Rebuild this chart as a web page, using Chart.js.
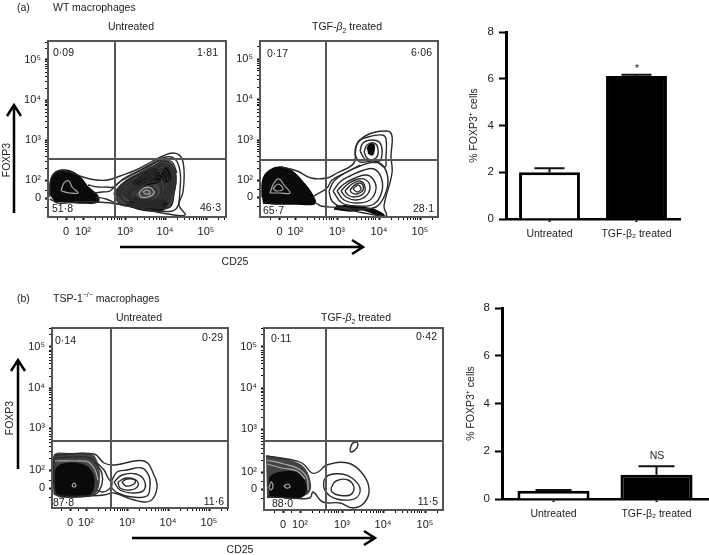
<!DOCTYPE html>
<html lang="en">
<head>
  <meta charset="UTF-8">
  <title>FOXP3 CD25 macrophages</title>
  <style>
    html, body { margin: 0; padding: 0; background: #fff; }
    #page {
      position: relative; width: 709px; height: 555px; overflow: hidden;
      font-family: "Liberation Sans", Arial, sans-serif; font-size: 10.5px; color: #222;
      filter: blur(0.4px);
    }
    canvas { position: absolute; }
    svg { position: absolute; left: 0; top: 0; }
    .t { position: absolute; white-space: nowrap; line-height: 1; }
    .t sup { font-size: 7px; line-height: 0; }
    .t sub { font-size: 7px; line-height: 0; }
  </style>
</head>
<body>
<div id="page">
  <canvas id="wtUntreated"></canvas>
  <canvas id="wtTreated"></canvas>
  <canvas id="wtBars"></canvas>
  <canvas id="tspUntreated"></canvas>
  <canvas id="tspTreated"></canvas>
  <canvas id="tspBars"></canvas>
  <svg width="709" height="555" fill="none" stroke="#000" stroke-width="2.5">
    <path d="M120 247H362M352 240L363 247L352 254"/>
    <path d="M14 213V106M7 116L14 105L21 116"/>
    <path d="M132 538H374M364 531L375 538L364 545"/>
    <path d="M18 469V361M11 371L18 360L25 371"/>
  </svg>
</div>

<script src="https://cdn.jsdelivr.net/npm/chart.js"></script>
<script>
// bar charts
const barCategories = ['Untreated', 'TGF-β₂ treated'];
const barTicks = [0, 2, 4, 6, 8];
const wtPercent = [2.0, 6.12];
const wtErrorTop = [2.17, 6.17];
const tspPercent = [0.35, 1.02];
const tspErrorTop = [0.38, 1.37];

// flow plots: values are display channels on each axis
const flowTickLabels = ['0', '10²', '10³', '10⁴', '10⁵'];
const wtUntreatedTicksX = [18, 35, 77, 117, 158];
const wtUntreatedTicksY = [19, 37, 77, 117, 157];
const wtTreatedTicksX = [19.5, 35.5, 77, 119, 160];
const wtTreatedTicksY = [20, 37, 77, 118, 158];
const tspUntreatedTicksX = [18, 34, 75, 116, 157];
const tspUntreatedTicksY = [20, 38, 80, 120, 161];
const tspTreatedTicksX = [19, 36, 78, 119, 161];
const tspTreatedTicksY = [21, 38, 81, 122, 163];

const wtUntreatedQuadrants = ['0·09', '1·81', '51·8', '46·3'];
const wtTreatedQuadrants = ['0·17', '6·06', '65·7', '28·1'];
const tspUntreatedQuadrants = ['0·14', '0·29', '87·8', '11·6'];
const tspTreatedQuadrants = ['0·11', '0·42', '88·0', '11·5'];

const wtUntreatedGate = [67, 58];
const wtTreatedGate = [66, 57];
const tspUntreatedGate = [59, 67];
const tspTreatedGate = [62, 69];

const wtUntreatedShade = [
  [[66,22],[74,33],[88,42],[104,50],[116,56],[124,52],[128,40],[126,24],[122,10],[105,8],[85,10],[70,15]]
];
const wtUntreatedDense = [
  [[2,22],[3,38],[10,46],[22,46],[32,40],[40,30],[49,22],[50,15],[35,14],[20,15],[6,16]],
  [[78,12],[95,7],[115,7],[118,16],[98,16],[84,18]],
  [[84,34],[95,42],[108,48],[112,36],[102,33],[90,31]],
  [[112,40],[118,50],[122,46],[122,36],[116,34]]
];
const wtUntreatedContours = [
  [[2,20],[3,38],[10,46],[22,45],[35,40],[48,37],[60,37],[72,41],[88,47],[103,55],[115,61],[125,64],[133,60],[136,47],[135,25],[131,12],[137,2],[120,3],[95,8],[70,13],[50,15],[30,15],[10,14],[2,18]],
  [[40,32],[50,30],[58,30],[66,30],[75,38],[90,46],[105,54],[118,60],[127,58],[132,46],[132,28],[128,8],[110,6],[90,9],[70,13],[58,18],[48,20]],
  [[46,24],[54,25],[62,26],[70,34],[84,42],[100,50],[114,57],[124,55],[129,44]],
  [[66,24],[74,33],[88,42],[104,50],[116,56],[124,52],[128,40],[126,24],[122,10],[105,9],[85,11],[70,15],[66,24]],
  [[68,24],[76,33],[89,41],[104,48],[115,53],[123,49],[126,37],[123,21],[118,11],[100,10],[81,13],[68,24]],
  [[70,24],[78,32],[90,39],[104,46],[115,51],[122,46],[124,34],[120,18],[114,12],[96,11],[78,15],[70,24]],
  [[72,24],[80,31],[91,38],[104,44],[114,48],[120,43],[122,31],[118,17],[107,12],[90,13],[76,16],[72,24]],
  [[74,23],[82,30],[92,37],[104,42],[113,46],[119,40],[120,28],[115,16],[100,13],[84,16],[74,23]],
  [[76,23],[84,29],[93,35],[104,40],[112,43],[117,37],[118,26],[113,16],[99,14],[85,16],[76,23]],
  [[78,22],[85,28],[94,34],[104,38],[111,40],[116,34],[116,24],[110,16],[98,15],[86,17],[78,22]],
  [[80,22],[88,29],[96,33],[105,36],[111,36],[114,30],[113,22],[106,16],[95,16],[80,22]],
  [[82,22],[90,29],[98,33],[106,35],[112,31],[112,22],[105,17],[94,17],[82,22]],
  [[86,22],[92,28],[100,31],[107,28],[108,22],[101,18],[92,18],[86,22]]
];
const wtUntreatedLight = [
  [[13,26],[16,34],[21,36],[24,30],[30,24],[22,24],[13,26]],
  [[91,24],[96,29],[103,29],[106,24],[100,20],[93,20],[91,24]],
  [[95,25],[99,27],[102,24],[98,23],[95,25]]
];

const wtTreatedShade = [];
const wtTreatedDense = [
  [[2,20],[3,38],[10,47],[21,50],[32,46],[42,36],[50,26],[55,17],[54,13],[35,13],[15,13],[3,14]],
  [[74,8],[90,6],[104,7],[115,3],[124,2],[112,8],[90,11],[76,11]],
  [[107,68],[110,73],[114,72],[114,66],[112,62],[108,64]]
];
const wtTreatedContours = [
  [[21,50],[37,46],[51,39],[67,39],[77,44],[94,54],[96,71],[107,82],[127,86],[132,81],[131,61],[132,44],[124,11],[126,1],[104,4],[81,9],[61,11],[56,14]],
  [[54,21],[67,29],[72,37],[85,44],[100,52]],
  [[69,26],[74,36],[85,44],[100,51],[115,55],[124,50],[128,36],[124,20],[116,10],[100,8],[82,10],[72,16],[69,26]],
  [[73,26],[80,35],[90,41],[104,47],[114,48],[121,40],[122,26],[114,13],[98,11],[82,14],[73,26]],
  [[77,26],[84,33],[95,39],[106,42],[113,38],[116,28],[110,17],[97,14],[84,17],[77,26]],
  [[81,26],[88,33],[98,38],[106,37],[110,30],[106,21],[96,17],[86,20],[81,26]],
  [[85,26],[92,33],[100,36],[105,30],[103,23],[94,20],[88,22],[85,26]],
  [[90,27],[96,33],[102,33],[103,27],[97,23],[92,24],[90,27]],
  [[93,28],[98,32],[101,28],[97,25],[93,28]],
  [[95,62],[98,75],[108,80],[122,82],[126,78],[126,60],[125,50],[115,56],[100,55],[95,62]],
  [[100,66],[103,74],[112,77],[120,74],[122,62],[118,55],[106,57],[100,66]],
  [[104,65],[107,72],[114,74],[118,68],[116,59],[108,58],[104,65]]
];
const wtTreatedLight = [
  [[10,24],[14,34],[19,38],[24,32],[30,24],[20,24],[10,24]],
  [[13,28],[18,33],[23,28],[17,26],[13,28]]
];

const tspUntreatedShade = [
  [[2,14],[2,52],[20,54],[40,53],[46,42],[47,25],[42,14],[25,11],[8,12]]
];
const tspUntreatedDense = [
  [[4,14],[4,38],[12,44],[28,44],[38,38],[42,26],[38,14],[24,12],[10,12]]
];
const tspUntreatedContours = [
  [[2,53],[42,54],[52,45],[62,43],[92,47],[102,33],[105,20],[98,7],[82,8],[62,15],[52,13],[38,12],[10,11],[2,14]],
  [[2,50],[22,51],[38,50],[46,42],[50,34],[50,24],[44,14],[30,12],[10,12],[3,16],[2,50]],
  [[45,45],[52,38],[56,30],[60,24],[56,18],[50,16],[45,18]],
  [[60,28],[65,36],[75,38],[90,40],[97,32],[98,22],[95,12],[80,11],[68,14],[60,20],[60,28]],
  [[62,26],[70,33],[84,34],[92,28],[92,18],[82,15],[68,18],[62,26]],
  [[66,26],[74,30],[84,28],[86,22],[78,18],[68,20],[66,26]],
  [[70,26],[75,29],[83,28],[82,24],[74,22],[70,26]]
];
const tspUntreatedLight = [
  [[3,47],[22,47],[36,46],[43,38],[46,28]],
  [[20,22],[22,25],[24,22],[22,21],[20,22]]
];

const tspTreatedShade = [
  [[2,54],[23,50],[39,43],[46,28],[44,17],[29,13],[3,13]]
];
const tspTreatedDense = [
  [[6,14],[6,32],[14,37],[30,38],[39,31],[42,20],[37,13],[20,12]]
];
const tspTreatedContours = [
  [[2,54],[23,51],[38,47],[48,37],[54,38],[63,45],[84,47],[98,37],[105,22],[101,8],[89,2],[76,7],[59,8],[49,18],[46,12],[29,12],[3,13]],
  [[60,30],[65,35],[78,36],[88,32],[96,22],[92,12],[78,10],[66,14],[60,22],[60,30]],
  [[67,22],[72,29],[84,30],[90,22],[86,15],[74,15],[68,18],[67,22]],
  [[86,60],[88,66],[92,68],[94,65],[91,60],[87,58],[86,60]]
];
const tspTreatedLight = [
  [[3,50],[20,46],[35,41],[43,32],[44,20]],
  [[3,46],[18,42],[33,39],[41,31]],
  [[5,22],[7,28],[9,24],[7,20],[5,22]],
  [[20,24],[24,26],[26,23],[22,22],[20,24]]
];

const decadeMinor = [12, 19, 24, 28, 31, 34, 36, 38];

const ink = '#222';

function label(html, x, y, align) {
  const d = document.createElement('div');
  d.className = 't';
  d.innerHTML = html;
  d.style.left = x + 'px';
  d.style.top = y + 'px';
  const tx = align === 'right' ? '-100%' : align === 'center' ? '-50%' : '0';
  d.style.transform = 'translate(' + tx + ',-50%)';
  document.getElementById('page').appendChild(d);
}

function place(id, area, g) {
  const c = document.getElementById(id);
  c.width = Math.round(area.r - area.l + g.left + g.right);
  c.height = Math.round(area.b - area.t + g.top + g.bottom);
  c.style.left = Math.round(area.l - g.left) + 'px';
  c.style.top = Math.round(area.t - g.top) + 'px';
  return c;
}

const framePlugin = {
  id: 'frame',
  afterDatasetsDraw(chart) {
    const a = chart.chartArea, ctx = chart.ctx;
    ctx.save();
    ctx.strokeStyle = '#555';
    ctx.lineWidth = 2;
    ctx.strokeRect(a.left, a.top, a.right - a.left, a.bottom - a.top);
    ctx.restore();
  }
};

function flowAxis(majors, gutter, horizontal) {
  const all = majors.slice();
  for (let i = 1; i < majors.length - 1; i++) {
    decadeMinor.forEach(m => all.push(majors[i] + m));
  }
  all.push(majors[0] - 9, majors[0] + 8, majors[4] + 12, majors[4] + 18);
  return {
    type: 'linear',
    afterBuildTicks(s) {
      s.ticks = all.filter(v => v > s.min && v < s.max).sort((a, b) => a - b).map(v => ({ value: v }));
    },
    afterFit(s) {
      if (horizontal) s.height = gutter; else s.width = gutter;
    },
    border: { display: false },
    grid: {
      drawOnChartArea: false, tickLength: 3, tickColor: '#111',
      tickWidth: c => (majors.includes(c.tick.value) ? 2 : 1)
    },
    ticks: {
      autoSkip: false, maxRotation: 0, minRotation: 0, padding: horizontal ? 5 : 4, color: ink,
      font: { family: 'Liberation Sans', size: 11 },
      callback: v => { const i = majors.indexOf(v); return i < 0 ? '' : flowTickLabels[i]; }
    }
  };
}

function polygons(list, opts) {
  return list.map(poly => Object.assign({
    data: poly.map(p => ({ x: p[0], y: p[1] })),
    showLine: true, pointRadius: 0, tension: 0.4, fill: false,
    borderColor: '#2b2b2b', borderWidth: 1.4
  }, opts));
}

function flowPlot(id, area, p) {
  const g = { left: 34, right: 6, top: 14, bottom: 26 };
  const w = area.r - area.l, h = area.b - area.t;
  const datasets = [].concat(
    polygons(p.shade, { fill: 'shape', backgroundColor: '#444', borderColor: '#444', order: 4 }),
    polygons(p.dense, { fill: 'shape', backgroundColor: '#0a0a0a', borderColor: '#0a0a0a', order: 3 }),
    polygons(p.contours, { order: 2 }),
    polygons(p.light, { borderColor: '#aaa', borderWidth: 1.2, order: 1 }),
    polygons([[[p.gate[0], 0], [p.gate[0], h]], [[0, p.gate[1]], [w, p.gate[1]]]],
      { borderColor: '#555', borderWidth: 2, tension: 0, order: 0 })
  );
  new Chart(place(id, area, g), {
    type: 'scatter',
    data: { datasets },
    options: {
      responsive: false, animation: false,
      layout: { autoPadding: false, padding: { top: g.top, right: g.right, left: 0, bottom: 0 } },
      plugins: { legend: { display: false }, tooltip: { enabled: false } },
      scales: {
        x: Object.assign(flowAxis(p.ticksX, g.bottom, true), { min: 0, max: w }),
        y: Object.assign(flowAxis(p.ticksY, g.left, false), { min: 0, max: h })
      }
    },
    plugins: [framePlugin]
  });
  // quadrant percentages
  const q = p.quadrants, ins = p.inset;
  label(q[0], area.l + ins[0][0], area.t + ins[0][1]);
  label(q[1], area.r - ins[1][0], area.t + ins[1][1], 'right');
  label(q[2], area.l + ins[2][0], area.b - ins[2][1]);
  label(q[3], area.r - ins[3][0], area.b - ins[3][1], 'right');
}

const errorPlugin = {
  id: 'errors',
  afterDatasetsDraw(chart, args, opts) {
    const ctx = chart.ctx, y = chart.scales.y;
    chart.getDatasetMeta(0).data.forEach((bar, i) => {
      const top = y.getPixelForValue(opts.tops[i]);
      ctx.save();
      ctx.strokeStyle = '#111';
      ctx.lineWidth = 2;
      ctx.beginPath();
      ctx.moveTo(bar.x, bar.y);
      ctx.lineTo(bar.x, top);
      ctx.moveTo(bar.x - opts.cap, top);
      ctx.lineTo(bar.x + opts.cap, top);
      ctx.stroke();
      ctx.restore();
    });
  }
};

function barPlot(id, area, values, tops, cap, titlePad) {
  const g = { left: 40, right: 1, top: 14, bottom: 26 };
  new Chart(place(id, area, g), {
    type: 'bar',
    data: {
      labels: barCategories,
      datasets: [{
        data: values, backgroundColor: ['#fff', '#000'], borderColor: '#000',
        borderWidth: 3, barPercentage: 0.7, categoryPercentage: 1, borderSkipped: 'bottom'
      }]
    },
    options: {
      responsive: false, animation: false,
      layout: { autoPadding: false, padding: { top: g.top, right: g.right, left: 0, bottom: 0 } },
      plugins: { legend: { display: false }, tooltip: { enabled: false }, errors: { tops, cap } },
      scales: {
        x: {
          afterFit(s) { s.height = g.bottom; },
          border: { color: '#000', width: 2.5 },
          grid: { offset: false, drawOnChartArea: false, tickLength: 3, tickColor: '#000', tickWidth: 2 },
          ticks: { color: ink, padding: 6, maxRotation: 0, font: { family: 'Liberation Sans', size: 10.5 } }
        },
        y: {
          min: 0, max: 8,
          afterBuildTicks(s) { s.ticks = barTicks.map(v => ({ value: v })); },
          afterFit(s) { s.width = g.left; },
          border: { color: '#000', width: 3 },
          grid: { drawOnChartArea: false, tickLength: 7, tickColor: '#000', tickWidth: 2 },
          ticks: { color: ink, padding: 5, font: { family: 'Liberation Sans', size: 11.5 } },
          title: {
            display: true, text: '% FOXP3⁺ cells', color: ink, padding: titlePad,
            font: { family: 'Liberation Sans', size: 10.5 }
          }
        }
      }
    },
    plugins: [errorPlugin]
  });
}

flowPlot('wtUntreated', { l: 48, r: 226, t: 41, b: 217 }, {
  ticksX: wtUntreatedTicksX, ticksY: wtUntreatedTicksY, gate: wtUntreatedGate,
  shade: wtUntreatedShade, dense: wtUntreatedDense, contours: wtUntreatedContours, light: wtUntreatedLight,
  quadrants: wtUntreatedQuadrants, inset: [[5, 11], [8, 11], [4, 9], [5, 10]]
});
flowPlot('wtTreated', { l: 260, r: 438, t: 41, b: 217 }, {
  ticksX: wtTreatedTicksX, ticksY: wtTreatedTicksY, gate: wtTreatedGate,
  shade: wtTreatedShade, dense: wtTreatedDense, contours: wtTreatedContours, light: wtTreatedLight,
  quadrants: wtTreatedQuadrants, inset: [[7, 12], [6, 11], [3, 7], [4, 9]]
});
flowPlot('tspUntreated', { l: 52, r: 228, t: 328, b: 508 }, {
  ticksX: tspUntreatedTicksX, ticksY: tspUntreatedTicksY, gate: tspUntreatedGate,
  shade: tspUntreatedShade, dense: tspUntreatedDense, contours: tspUntreatedContours, light: tspUntreatedLight,
  quadrants: tspUntreatedQuadrants, inset: [[3, 12], [5, 9], [1, 6], [4, 7]]
});
flowPlot('tspTreated', { l: 264, r: 443, t: 328, b: 510 }, {
  ticksX: tspTreatedTicksX, ticksY: tspTreatedTicksY, gate: tspTreatedGate,
  shade: tspTreatedShade, dense: tspTreatedDense, contours: tspTreatedContours, light: tspTreatedLight,
  quadrants: tspTreatedQuadrants, inset: [[7, 10], [6, 8], [8, 7], [5, 9]]
});

barPlot('wtBars', { l: 505.5, r: 679.5, t: 32, b: 219 }, wtPercent, wtErrorTop, 15, { top: 2, bottom: 0 });
barPlot('tspBars', { l: 502, r: 708, t: 308, b: 499 }, tspPercent, tspErrorTop, 18, { top: 3, bottom: 0 });

label('(a)', 17, 7);
label('WT macrophages', 53, 7);
label('Untreated', 131, 26, 'center');
label('TGF-<i>β</i><sub>2</sub> treated', 347, 26, 'center');
label('FOXP3', 6, 160, 'center');
label('CD25', 235, 261, 'center');
label('(b)', 17, 298);
label('TSP-1<sup>−/−</sup> macrophages', 53, 298);
label('Untreated', 139, 317, 'center');
label('TGF-<i>β</i><sub>2</sub> treated', 356, 317, 'center');
label('FOXP3', 9, 418, 'center');
label('CD25', 240, 549, 'center');
label('*', 637, 68, 'center');
label('NS', 657, 455, 'center');

// rotate the FOXP3 captions
document.querySelectorAll('.t').forEach(d => {
  if (d.textContent === 'FOXP3') d.style.transform = 'translate(-50%,-50%) rotate(-90deg)';
});
</script>
</body>
</html>
